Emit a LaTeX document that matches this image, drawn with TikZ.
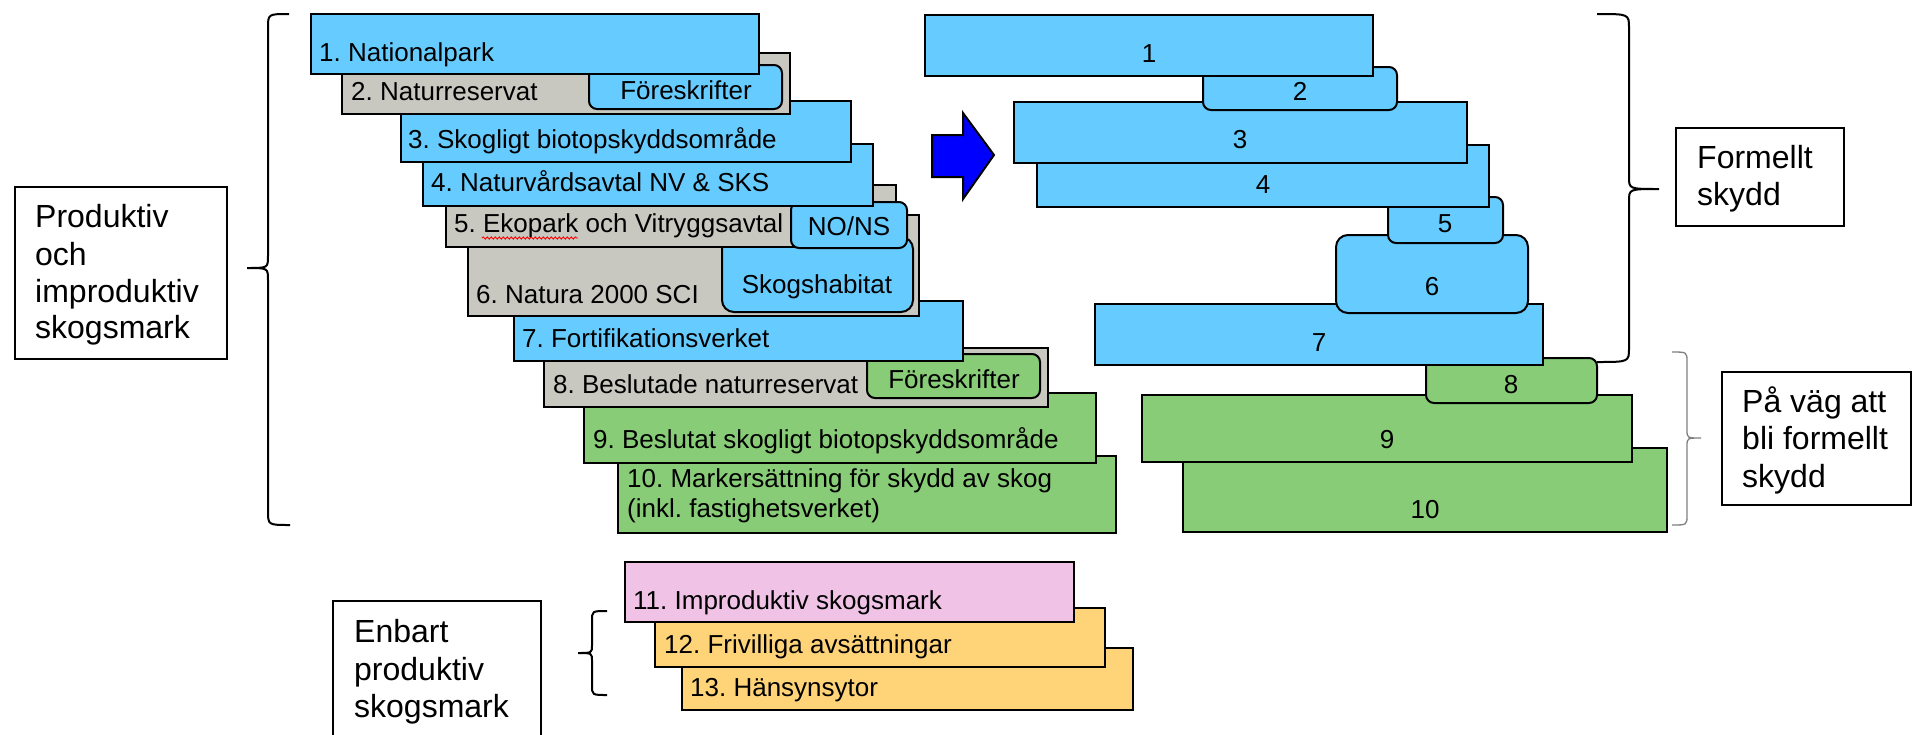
\documentclass[tikz,border=0pt]{standalone}
\usepackage{fontspec}
\setmainfont{Liberation Sans}
\frenchspacing
\usetikzlibrary{decorations.pathmorphing}
\definecolor{skyblue}{RGB}{102,204,255}
\definecolor{stonegray}{RGB}{200,200,193}
\definecolor{leafgreen}{RGB}{136,204,119}
\definecolor{heathpink}{RGB}{240,194,230}
\definecolor{sandorange}{RGB}{255,212,121}
\tikzset{
  plainbox/.style={draw=black, line width=2pt},
  bluebox/.style={plainbox, fill=skyblue},
  graybox/.style={plainbox, fill=stonegray},
  greenbox/.style={plainbox, fill=leafgreen},
  roundtag/.style={rounded corners=8pt},
  boxtext/.style={anchor=base west, inner sep=0pt, font=\fontsize{26}{30}\selectfont},
  tagtext/.style={anchor=base, inner sep=0pt, font=\fontsize{26}{30}\selectfont},
  sidetext/.style={anchor=base west, inner sep=0pt, font=\fontsize{32}{38}\selectfont},
  curlybrace/.style={draw=black, line width=2pt},
}
\begin{document}
\begin{tikzpicture}[x=1pt,y=-1pt]
  \useasboundingbox (0,0) rectangle (1913,734);
  % left stack, lowest box first
  \draw[greenbox] (618,456) rectangle (1116,533);
  \node[boxtext] (t10a) at (627,487) {10. Markersättning för skydd av skog};
  \node[boxtext] (t10b) at (627,517) {(inkl. fastighetsverket)};
  \draw[greenbox] (584,393) rectangle (1096,463);
  \node[boxtext] (t9) at (593,448) {9. Beslutat skogligt biotopskyddsområde};
  \draw[graybox] (544,348) rectangle (1048,407);
  \node[boxtext] (t8) at (553,393) {8. Beslutade naturreservat};
  \draw[greenbox,roundtag] (867,354) rectangle (1040,398);
  \node[tagtext] (f8) at (954,388) {Föreskrifter};
  \draw[bluebox] (514,301) rectangle (963,361);
  \node[boxtext] (t7) at (522,347) {7. Fortifikationsverket};
  \draw[graybox] (468,215) rectangle (919,316);
  \node[boxtext] (t6) at (476,303) {6. Natura 2000 SCI};
  \draw[bluebox,rounded corners=12pt] (722,237) rectangle (913,312);
  \node[tagtext] (hab) at (817,293) {Skogshabitat};
  \draw[graybox] (446,185) rectangle (896,247);
  \node[boxtext] (t5) at (454,232) {5. Ekopark och Vitryggsavtal};
  \draw[red,line width=0.9pt,decorate,decoration={snake,amplitude=1.1pt,segment length=4pt}] (482,238) -- (578,238);
  \draw[bluebox,roundtag] (791,202) rectangle (907,248);
  \node[tagtext] (nons) at (849,235) {NO/NS};
  \draw[bluebox] (423,144) rectangle (873,206);
  \node[boxtext] (t4) at (431,191) {4. Naturvårdsavtal NV \& SKS};
  \draw[bluebox] (401,101) rectangle (851,162);
  \node[boxtext] (t3) at (408,148) {3. Skogligt biotopskyddsområde};
  \draw[graybox] (342,53) rectangle (790,114);
  \node[boxtext] (t2) at (351,100) {2. Naturreservat};
  \draw[bluebox,roundtag] (589,65) rectangle (782,109);
  \node[tagtext] (f2) at (686,99) {Föreskrifter};
  \draw[bluebox] (311,14) rectangle (759,74);
  \node[boxtext] (t1) at (319,61) {1. Nationalpark};

  % arrow
  \draw[fill=blue,line width=2pt] (932,135) -- (963,135) -- (963,113) -- (994,155)
    -- (963,199) -- (963,177) -- (932,177) -- cycle;

  % right stack
  \draw[greenbox] (1183,448) rectangle (1667,532);
  \node[tagtext] (r10) at (1425,518) {10};
  \draw[greenbox] (1142,395) rectangle (1632,462);
  \node[tagtext] (r9) at (1387,448) {9};
  \draw[greenbox,roundtag] (1426,358) rectangle (1597,403);
  \node[tagtext] (r8) at (1511,393) {8};
  \draw[bluebox] (1095,304) rectangle (1543,365);
  \node[tagtext] (r7) at (1319,351) {7};
  \draw[bluebox,rounded corners=12pt] (1336,235) rectangle (1528,313);
  \node[tagtext] (r6) at (1432,295) {6};
  \draw[bluebox,roundtag] (1388,197) rectangle (1503,243);
  \node[tagtext] (r5) at (1445,232) {5};
  \draw[bluebox] (1037,145) rectangle (1489,207);
  \node[tagtext] (r4) at (1263,193) {4};
  \draw[bluebox] (1014,102) rectangle (1467,163);
  \node[tagtext] (r3) at (1240,148) {3};
  \draw[bluebox,roundtag] (1203,67) rectangle (1397,110);
  \node[tagtext] (r2) at (1300,100) {2};
  \draw[bluebox] (925,15) rectangle (1373,76);
  \node[tagtext] (r1) at (1149,62) {1};

  % bottom stack
  \draw[plainbox,fill=sandorange] (682,648) rectangle (1133,710);
  \node[boxtext] (t13) at (690,696) {13. Hänsynsytor};
  \draw[plainbox,fill=sandorange] (655,608) rectangle (1105,667);
  \node[boxtext] (t12) at (664,653) {12. Frivilliga avsättningar};
  \draw[plainbox,fill=heathpink] (625,562) rectangle (1074,622);
  \node[boxtext] (t11) at (633,609) {11. Improduktiv skogsmark};

  % braces
  \draw[curlybrace] (289,14) .. controls (268,14) .. (268,28) -- (268,256)
    .. controls (268,268) .. (247,268) .. controls (268,268) .. (268,280)
    -- (268,511) .. controls (268,525) .. (290,525);
  \draw[curlybrace] (1597,14) .. controls (1629,14) .. (1629,28) -- (1629,177)
    .. controls (1629,189) .. (1659,189) .. controls (1629,189) .. (1629,201)
    -- (1629,348) .. controls (1629,362) .. (1597,362);
  \draw[curlybrace,draw=gray,line width=1.3pt] (1672,352) .. controls (1687,352) .. (1687,362)
    -- (1687,430) .. controls (1687,438) .. (1701,438) .. controls (1687,438) .. (1687,446)
    -- (1687,515) .. controls (1687,525) .. (1672,525);
  \draw[curlybrace] (607,611) .. controls (592,611) .. (592,621) -- (592,645)
    .. controls (592,653) .. (578,653) .. controls (592,653) .. (592,661)
    -- (592,685) .. controls (592,695) .. (607,695);

  % side labels
  \draw[plainbox] (15,187) rectangle (227,359);
  \node[sidetext] (prod1) at (35,227) {Produktiv};
  \node[sidetext] (prod2) at (35,265) {och};
  \node[sidetext] (prod3) at (35,302) {improduktiv};
  \node[sidetext] (prod4) at (35,338) {skogsmark};
  \draw[plainbox] (1676,128) rectangle (1844,226);
  \node[sidetext] (form1) at (1697,168) {Formellt};
  \node[sidetext] (form2) at (1697,205) {skydd};
  \draw[plainbox] (1722,372) rectangle (1911,505);
  \node[sidetext] (way1) at (1742,412) {På väg att};
  \node[sidetext] (way2) at (1742,449) {bli formellt};
  \node[sidetext] (way3) at (1742,487) {skydd};
  \draw[plainbox] (333,601) rectangle (541,750);
  \node[sidetext] (only1) at (354,642) {Enbart};
  \node[sidetext] (only2) at (354,680) {produktiv};
  \node[sidetext] (only3) at (354,717) {skogsmark};
\end{tikzpicture}
\end{document}
